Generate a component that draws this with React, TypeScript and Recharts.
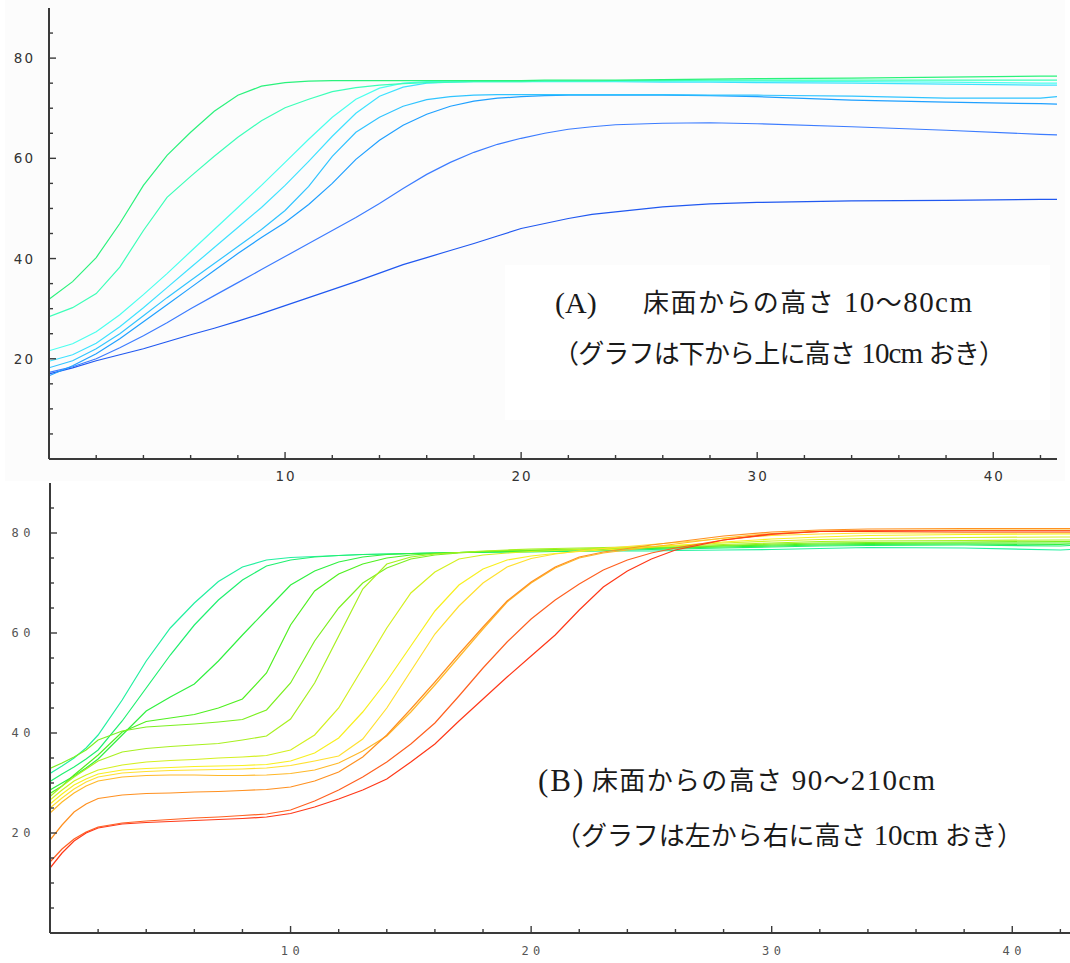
import React from 'react';
import { LineChart, Line, XAxis, YAxis } from 'recharts';

// ---------- Panel A: heights 10-80 cm ----------
const timeA = [0,1,2,3,4,5,6,7,8,9,10,11,12,13,14,15,16,17,18,19,20,21,22,23,24,26,28,30,34,38,42,42.7];
const h10 = [17.0,18.2,19.6,20.8,22.0,23.4,24.8,26.1,27.5,29.0,30.6,32.2,33.8,35.4,37.1,38.8,40.2,41.6,43.0,44.5,46.0,47.0,48.0,48.8,49.3,50.3,50.9,51.2,51.5,51.6,51.8,51.8];
const h20 = [17.3,18.4,20.0,22.2,24.6,27.2,30.0,32.6,35.2,37.8,40.4,43.0,45.6,48.2,51.0,54.0,56.8,59.2,61.2,62.8,64.0,65.0,65.8,66.3,66.7,67.0,67.1,66.9,66.3,65.6,64.8,64.7];
const h30 = [16.6,18.6,21.0,24.0,27.4,30.8,34.2,37.6,41.0,44.2,47.2,50.8,55.0,59.8,63.6,66.6,68.8,70.4,71.4,72.0,72.3,72.5,72.6,72.6,72.6,72.6,72.5,72.3,71.6,71.2,70.9,70.8];
const h40 = [18.2,19.6,22.0,25.0,28.6,32.2,35.6,39.0,42.4,45.8,49.6,54.4,60.4,65.2,68.2,70.4,71.7,72.3,72.6,72.7,72.7,72.7,72.7,72.7,72.7,72.7,72.6,72.6,72.4,72.0,72.0,72.3];
const h50 = [19.5,20.8,23.1,26.4,30.2,34.2,38.2,42.2,46.2,50.2,54.6,59.4,64.4,69.0,72.4,74.2,75.0,75.2,75.3,75.3,75.3,75.3,75.3,75.3,75.3,75.2,75.2,75.1,75.0,74.8,74.6,74.6];
const h60 = [21.6,23.0,25.4,28.8,32.8,37.0,41.4,45.8,50.2,54.6,59.2,63.8,68.2,71.8,74.0,75.0,75.3,75.4,75.4,75.4,75.4,75.4,75.4,75.4,75.4,75.4,75.4,75.4,75.3,75.2,75.0,75.0];
const h70 = [28.4,30.2,33.0,38.3,45.6,52.2,56.4,60.4,64.2,67.5,70.1,71.8,73.3,74.1,74.6,74.9,75.1,75.2,75.3,75.3,75.3,75.4,75.4,75.4,75.5,75.5,75.6,75.6,75.6,75.6,75.6,75.6];
const h80 = [31.9,35.4,40.2,47.0,54.6,60.6,65.2,69.4,72.6,74.4,75.1,75.4,75.5,75.5,75.5,75.5,75.5,75.5,75.5,75.5,75.5,75.6,75.6,75.6,75.6,75.7,75.8,75.9,76.0,76.2,76.4,76.4];

// ---------- Panel B: heights 90-210 cm ----------
const timeB = [0,0.5,1,1.5,2,3,4,5,6,7,8,9,10,11,12,13,14,15,16,17,18,19,20,21,22,23,24,25,26,28,30,32,34,38,42,42.4];
const h90 = [31.9,33.4,35.0,37.0,39.6,46.6,54.4,61.0,66.0,70.3,73.2,74.6,75.1,75.3,75.5,75.7,75.8,75.9,76.0,76.1,76.2,76.2,76.3,76.3,76.3,76.4,76.4,76.4,76.5,76.6,76.7,76.9,77.1,77.0,76.6,76.7];
const h100 = [30.3,31.8,33.2,34.8,36.6,42.4,49.0,55.6,61.6,66.6,70.6,73.4,74.6,75.2,75.5,75.7,75.8,75.9,76.0,76.1,76.1,76.2,76.2,76.3,76.4,76.5,76.6,76.7,76.8,77.0,77.2,77.4,77.5,77.6,77.4,77.5];
const h110 = [28.6,30.0,31.4,33.0,34.8,39.6,44.4,47.2,49.8,54.4,59.6,64.6,69.6,72.4,74.2,75.2,75.7,75.9,76.0,76.1,76.2,76.3,76.4,76.5,76.6,76.7,76.8,76.9,77.0,77.2,77.4,77.6,77.7,77.8,77.7,77.8];
const h120 = [27.9,29.4,31.6,33.6,35.6,40.2,42.3,43.0,43.7,45.0,46.8,52.0,61.6,68.4,71.8,73.8,75.0,75.6,75.9,76.1,76.3,76.4,76.5,76.6,76.7,76.8,76.9,77.0,77.1,77.4,77.6,77.8,77.9,78.0,78.0,78.0];
const h130 = [32.9,34.0,35.2,36.6,38.6,40.4,41.2,41.5,41.8,42.2,42.7,44.6,50.0,58.4,65.0,70.0,73.0,74.8,75.6,76.0,76.3,76.5,76.6,76.7,76.8,76.9,77.0,77.1,77.2,77.5,77.8,78.0,78.1,78.2,78.3,78.3];
const h140 = [27.3,29.4,31.2,32.8,34.4,36.2,36.9,37.3,37.6,37.9,38.6,39.4,42.8,50.0,59.4,68.8,73.8,75.2,75.8,76.1,76.4,76.6,76.8,76.9,77.0,77.1,77.2,77.3,77.4,77.7,78.0,78.3,78.4,78.5,78.6,78.6];
const h150 = [26.6,28.6,30.4,31.6,32.6,33.6,34.2,34.5,34.7,35.0,35.2,35.5,36.6,39.6,45.0,53.0,61.0,68.0,72.2,74.8,75.6,76.0,76.3,76.5,76.7,76.9,77.1,77.3,77.5,78.0,78.4,78.7,78.9,79.1,79.2,79.2];
const h160 = [25.8,27.8,29.6,30.8,31.8,32.6,32.9,33.1,33.3,33.4,33.5,33.7,34.4,36.0,39.0,44.2,50.4,57.4,64.4,69.6,72.8,74.6,75.4,75.9,76.3,76.6,76.9,77.2,77.5,78.2,78.8,79.2,79.5,79.7,79.8,79.8];
const h170 = [25.0,27.0,28.8,30.2,31.2,32.0,32.3,32.5,32.6,32.7,32.8,33.0,33.5,34.4,35.4,38.8,45.0,52.4,59.8,65.4,70.0,73.2,74.9,75.8,76.4,76.9,77.3,77.7,78.1,78.9,79.5,79.8,80.0,80.0,80.0,80.0];
const h180 = [24.0,26.2,28.0,29.4,30.4,31.2,31.5,31.6,31.6,31.5,31.5,31.6,31.9,32.6,34.0,36.4,39.4,44.2,49.6,55.2,60.8,66.2,70.0,73.0,75.0,76.0,76.6,77.2,77.8,79.0,79.9,80.4,80.5,80.6,80.6,80.6];
const h190 = [18.6,21.6,24.2,25.8,26.9,27.6,27.9,28.0,28.2,28.3,28.5,28.7,29.2,30.4,32.2,35.2,39.6,44.8,50.2,55.8,61.2,66.4,70.2,73.2,75.2,76.2,76.9,77.6,78.2,79.4,80.2,80.6,80.8,80.9,80.9,80.9];
const h200 = [14.2,16.8,18.8,20.2,21.2,22.0,22.4,22.7,23.0,23.2,23.5,23.8,24.6,26.4,28.6,31.2,34.2,37.8,42.0,47.4,53.0,58.2,62.8,66.6,69.8,72.6,74.6,76.0,77.0,78.6,79.7,80.3,80.5,80.5,80.5,80.5];
const h210 = [13.0,16.0,18.4,20.0,21.0,21.8,22.1,22.3,22.5,22.7,22.9,23.2,23.9,25.2,26.8,28.6,30.8,34.2,37.8,42.4,46.8,51.2,55.4,59.6,64.6,69.2,72.4,74.8,76.6,78.6,79.8,80.3,80.3,80.2,80.2,80.2];

// ---------- axis ticks ----------
const xTicks = [2,4,6,8,10,12,14,16,18,20,22,24,26,28,30,32,34,36,38,40,42];
const yTicks = [5,10,15,20,25,30,35,40,45,50,55,60,65,70,75,80,85];

const seriesA = [
  { key: 'h10', values: h10 },
  { key: 'h20', values: h20 },
  { key: 'h30', values: h30 },
  { key: 'h40', values: h40 },
  { key: 'h50', values: h50 },
  { key: 'h60', values: h60 },
  { key: 'h70', values: h70 },
  { key: 'h80', values: h80 },
];
const colorsA = ['#2058F0', '#3C7CFF', '#1FA0FF', '#30C4FF', '#3EE2FF', '#4AFFEE', '#3CFFB8', '#2AF27C'];

const seriesB = [
  { key: 'h90', values: h90 },
  { key: 'h100', values: h100 },
  { key: 'h110', values: h110 },
  { key: 'h120', values: h120 },
  { key: 'h130', values: h130 },
  { key: 'h140', values: h140 },
  { key: 'h150', values: h150 },
  { key: 'h160', values: h160 },
  { key: 'h170', values: h170 },
  { key: 'h180', values: h180 },
  { key: 'h190', values: h190 },
  { key: 'h200', values: h200 },
  { key: 'h210', values: h210 },
];
const colorsB = ['#22F0A0', '#20F070', '#30F040', '#50F020', '#7CF020', '#A8F020', '#D4F020', '#F8F020', '#FFE030', '#FFB828', '#FF9020', '#FF6020', '#FF3818'];

function buildRows(time: number[], series: { key: string; values: number[] }[]) {
  return time.map((t, i) => {
    const row: Record<string, number> = { t };
    series.forEach((s) => { row[s.key] = s.values[i]; });
    return row;
  });
}

const rowsA = buildRows(timeA, seriesA);
const rowsB = buildRows(timeB, seriesB);

const AXIS = '#3a3a3a';

const makeXTick = (variant: 'A' | 'B') => (props: any) => {
  const { x, y, payload } = props;
  const v = payload.value;
  const major = v % 10 === 0;
  return (
    <g>
      <line x1={x} y1={y} x2={x} y2={y - (major ? 7 : 4)} stroke={AXIS} strokeWidth={1.4} />
      {major && (
        variant === 'A' ? (
          <text x={x + 1} y={y + 17} textAnchor="middle" dominantBaseline="central"
            fontFamily="'DejaVu Sans', sans-serif" fontSize={13.5} letterSpacing={2} fill="#333">{v}</text>
        ) : (
          <text x={x + 2} y={y + 18} textAnchor="middle" dominantBaseline="central"
            fontFamily="'DejaVu Sans Mono', monospace" fontSize={12} letterSpacing={4.5} fill="#555">{v}</text>
        )
      )}
    </g>
  );
};

const makeYTick = (variant: 'A' | 'B') => (props: any) => {
  const { x, y, payload } = props;
  const v = payload.value;
  const major = v % 20 === 0;
  return (
    <g>
      <line x1={x} y1={y} x2={x + (major ? 7 : 4)} y2={y} stroke={AXIS} strokeWidth={1.4} />
      {major && (
        variant === 'A' ? (
          <text x={x - 14} y={y} textAnchor="end" dominantBaseline="central"
            fontFamily="'DejaVu Sans', sans-serif" fontSize={13.5} letterSpacing={2} fill="#333">{v}</text>
        ) : (
          <text x={x - 15} y={y} textAnchor="end" dominantBaseline="central"
            fontFamily="'DejaVu Sans Mono', monospace" fontSize={12} letterSpacing={4.5} fill="#555">{v}</text>
        )
      )}
    </g>
  );
};

const CJK = "'Noto Sans CJK JP', sans-serif";
const SERIF = "'Liberation Serif', 'DejaVu Serif', serif";

export default function App() {
  return (
    <div style={{ position: 'absolute', left: 0, top: 0, width: 1070, height: 963, background: '#ffffff', overflow: 'hidden' }}>
      <div style={{ position: 'absolute', left: 5, top: 0, width: 1060, height: 481, background: '#fcfcfc' }} />
      <div style={{ position: 'absolute', left: 505, top: 265, width: 545, height: 155, background: '#ffffff' }} />

      <div style={{ position: 'absolute', left: 0, top: 0 }}>
        <LineChart width={1070} height={489} data={rowsA} margin={{ top: 8, right: 13, left: 0, bottom: 0 }}>
          <XAxis dataKey="t" type="number" domain={[0, 42.7]} ticks={xTicks} interval={0}
            height={30} tickSize={0} tickMargin={0} tickLine={false}
            axisLine={{ stroke: AXIS, strokeWidth: 2 }} tick={makeXTick('A')} allowDataOverflow />
          <YAxis type="number" domain={[0, 90]} ticks={yTicks} interval={0}
            width={49} tickSize={0} tickMargin={0} tickLine={false}
            axisLine={{ stroke: AXIS, strokeWidth: 2 }} tick={makeYTick('A')} allowDataOverflow />
          {seriesA.map((s, i) => (
            <Line key={s.key} dataKey={s.key} type="linear" stroke={colorsA[i]} strokeWidth={1.2}
              dot={false} activeDot={false} isAnimationActive={false} />
          ))}
        </LineChart>
      </div>

      <div style={{ position: 'absolute', left: 0, top: 475 }}>
        <LineChart width={1070} height={488} data={rowsB} margin={{ top: 8, right: 0, left: 0, bottom: 0 }}>
          <XAxis dataKey="t" type="number" domain={[0, 42.4]} ticks={xTicks} interval={0}
            height={30} tickSize={0} tickMargin={0} tickLine={false}
            axisLine={{ stroke: AXIS, strokeWidth: 2 }} tick={makeXTick('B')} allowDataOverflow />
          <YAxis type="number" domain={[0, 90]} ticks={yTicks} interval={0}
            width={50} tickSize={0} tickMargin={0} tickLine={false}
            axisLine={{ stroke: AXIS, strokeWidth: 2 }} tick={makeYTick('B')} allowDataOverflow />
          {seriesB.map((s, i) => (
            <Line key={s.key} dataKey={s.key} type="linear" stroke={colorsB[i]} strokeWidth={1.2}
              dot={false} activeDot={false} isAnimationActive={false} />
          ))}
        </LineChart>
      </div>

      <svg width={1070} height={963} style={{ position: 'absolute', left: 0, top: 0, pointerEvents: 'none' }}>
        <g fill="#1a1a1a" fontSize={26}>
          <text x={555} y={313} fontFamily={SERIF} fontSize={30}>(A)</text>
          <text x={643} y={312} textLength={329} lengthAdjust="spacing">
            <tspan fontFamily={CJK}>床面からの高さ</tspan>
            <tspan fontFamily={SERIF} fontSize={29}>{' 10'}</tspan>
            <tspan fontFamily={CJK}>～</tspan>
            <tspan fontFamily={SERIF} fontSize={29}>80cm</tspan>
          </text>
          <text x={553} y={363} textLength={452} lengthAdjust="spacing">
            <tspan fontFamily={CJK}>（グラフは下から上に高さ</tspan>
            <tspan fontFamily={SERIF} fontSize={29}>{' 10cm '}</tspan>
            <tspan fontFamily={CJK}>おき）</tspan>
          </text>

          <text x={538} y={791} fontFamily={SERIF} fontSize={31} letterSpacing={2}>(B)</text>
          <text x={592} y={790} textLength={343} lengthAdjust="spacing">
            <tspan fontFamily={CJK}>床面からの高さ</tspan>
            <tspan fontFamily={SERIF} fontSize={29}>{' 90'}</tspan>
            <tspan fontFamily={CJK}>～</tspan>
            <tspan fontFamily={SERIF} fontSize={29}>210cm</tspan>
          </text>
          <text x={555} y={845} textLength={468} lengthAdjust="spacing">
            <tspan fontFamily={CJK}>（グラフは左から右に高さ</tspan>
            <tspan fontFamily={SERIF} fontSize={29}>{' 10cm '}</tspan>
            <tspan fontFamily={CJK}>おき）</tspan>
          </text>
        </g>
      </svg>
    </div>
  );
}
